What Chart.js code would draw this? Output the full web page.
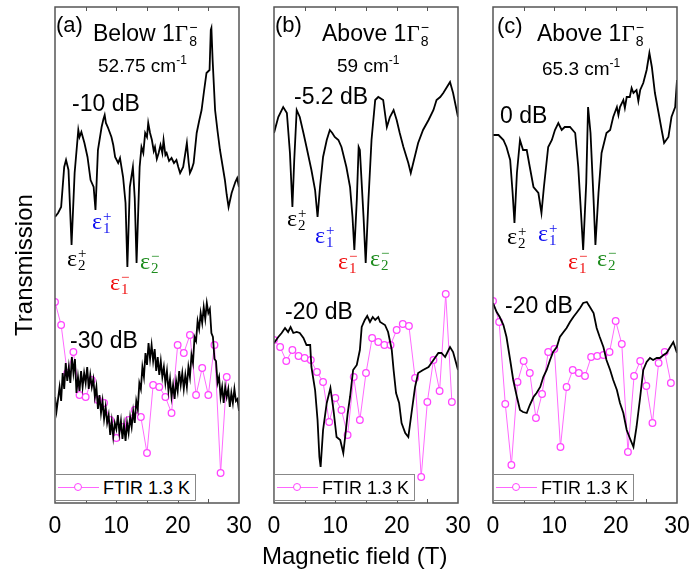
<!DOCTYPE html>
<html>
<head>
<meta charset="utf-8">
<script src="https://cdn.jsdelivr.net/npm/chart.js@4.4.1/dist/chart.umd.min.js"></script>
<style>
  body { margin: 0; background: #fff; font-family: "Liberation Sans", Arial, sans-serif; }
  #wrap { position: relative; width: 692px; height: 575px; overflow: hidden; }
  canvas.panel { position: absolute; top: 0; }
  .t { position: absolute; white-space: nowrap; color: #000; line-height: 1; font-size: 23px; }
  .small { font-size: 19px; }
  .t sup { font-size: 12px; vertical-align: 8px; }
  .serif { font-family: "Liberation Serif", "Times New Roman", serif; }
  .stk { display: inline-block; position: relative; width: 0.5em; height: 1em; vertical-align: top; }
  .stk .up, .stk .dn { position: absolute; left: 1px; font-size: 14px; line-height: 1; }
  .stk .up { top: -2px; }
  .stk .dn { top: 12px; }
  .eps { position: absolute; font-family: "Liberation Serif", "Times New Roman", serif; font-size: 24px; line-height: 1; white-space: nowrap; }
  .eps .stk { width: 9px; height: 24px; }
  .eps .stk .up, .eps .stk .dn { font-size: 15px; }
  .eps .stk .up { top: 0; }
  .eps .stk .dn { top: 12px; }
  .legend { position: absolute; top: 474px; width: 141px; height: 27px; border: 1px solid #888; background: #fff; box-sizing: border-box; }
  .legend .ln { position: absolute; left: 2px; top: 12px; width: 41px; border-top: 1px solid #ff66ff; }
  .legend .pt { position: absolute; left: 18px; top: 8px; width: 6px; height: 6px; border: 1.3px solid #ff44ff; border-radius: 50%; background: #fff; }
  .legend .lt { position: absolute; left: 47px; top: 4px; font-size: 18px; line-height: 1; }
</style>
</head>
<body>
<div id="wrap">
  <canvas id="cA" class="panel" width="224" height="545" style="left:35px"></canvas>
  <canvas id="cB" class="panel" width="224" height="545" style="left:254px"></canvas>
  <canvas id="cC" class="panel" width="224" height="545" style="left:473px"></canvas>

  <!-- panel (a) -->
  <div class="t" style="left:56px;top:14px;font-size:22px">(a)</div>
  <div class="t" style="left:93px;top:22px">Below 1<span class="serif">Γ</span><span class="stk"><span class="up">−</span><span class="dn">8</span></span></div>
  <div class="t small" style="left:98px;top:54px">52.75 cm<sup>-1</sup></div>
  <div class="t" style="left:72px;top:92px">-10 dB</div>
  <div class="t" style="left:70px;top:329px">-30 dB</div>
  <div class="eps" style="left:67px;top:246px;color:#000">ε<span class="stk"><span class="up">+</span><span class="dn">2</span></span></div>
  <div class="eps" style="left:92px;top:209px;color:#1010f0">ε<span class="stk"><span class="up">+</span><span class="dn">1</span></span></div>
  <div class="eps" style="left:110px;top:270px;color:#f01010">ε<span class="stk"><span class="up">−</span><span class="dn">1</span></span></div>
  <div class="eps" style="left:140px;top:249px;color:#1e8c1e">ε<span class="stk"><span class="up">−</span><span class="dn">2</span></span></div>

  <!-- panel (b) -->
  <div class="t" style="left:275px;top:14px;font-size:22px">(b)</div>
  <div class="t" style="left:322px;top:22px">Above 1<span class="serif">Γ</span><span class="stk"><span class="up">−</span><span class="dn">8</span></span></div>
  <div class="t small" style="left:337px;top:54px">59 cm<sup>-1</sup></div>
  <div class="t" style="left:294px;top:85px">-5.2 dB</div>
  <div class="t" style="left:285px;top:300px">-20 dB</div>
  <div class="eps" style="left:287px;top:206px;color:#000">ε<span class="stk"><span class="up">+</span><span class="dn">2</span></span></div>
  <div class="eps" style="left:315px;top:223px;color:#1010f0">ε<span class="stk"><span class="up">+</span><span class="dn">1</span></span></div>
  <div class="eps" style="left:338px;top:249px;color:#f01010">ε<span class="stk"><span class="up">−</span><span class="dn">1</span></span></div>
  <div class="eps" style="left:370px;top:246px;color:#1e8c1e">ε<span class="stk"><span class="up">−</span><span class="dn">2</span></span></div>

  <!-- panel (c) -->
  <div class="t" style="left:497px;top:15px;font-size:22px">(c)</div>
  <div class="t" style="left:537px;top:22px">Above 1<span class="serif">Γ</span><span class="stk"><span class="up">−</span><span class="dn">8</span></span></div>
  <div class="t small" style="left:542px;top:57px">65.3 cm<sup>-1</sup></div>
  <div class="t" style="left:500px;top:104px">0 dB</div>
  <div class="t" style="left:505px;top:294px">-20 dB</div>
  <div class="eps" style="left:507px;top:224px;color:#000">ε<span class="stk"><span class="up">+</span><span class="dn">2</span></span></div>
  <div class="eps" style="left:538px;top:221px;color:#1010f0">ε<span class="stk"><span class="up">+</span><span class="dn">1</span></span></div>
  <div class="eps" style="left:568px;top:249px;color:#f01010">ε<span class="stk"><span class="up">−</span><span class="dn">1</span></span></div>
  <div class="eps" style="left:597px;top:246px;color:#1e8c1e">ε<span class="stk"><span class="up">−</span><span class="dn">2</span></span></div>

  <!-- legends -->
  <div class="legend" style="left:55px"><div class="ln"></div><div class="pt"></div><div class="lt">FTIR 1.3 K</div></div>
  <div class="legend" style="left:274px"><div class="ln"></div><div class="pt"></div><div class="lt">FTIR 1.3 K</div></div>
  <div class="legend" style="left:493px"><div class="ln"></div><div class="pt"></div><div class="lt">FTIR 1.3 K</div></div>

  <!-- axis titles -->
  <div class="t" style="left:262px;top:544px;font-size:24px">Magnetic field (T)</div>
  <div class="t" style="left:24px;top:265px;font-size:24px;transform:translate(-50%,-50%) rotate(-90deg);transform-origin:center">Transmission</div>
</div>

<script>
// x grid for the FTIR points (tesla)
const ftirField = [0,1,2,3,4,5,6,7,8,9,10,11,12,13,14,15,16,17,18,19,20,21,22,23,24,25,26,27,28,29];
const xTicks = [0, 10, 20, 30];
const minorTicks = [5, 10, 15, 20, 25];

// (a) 52.75 cm-1 : upper trace -10 dB, lower trace -30 dB (arb. units)
const upperA = [[0,2.86],[0.5,2.90],[1.0,2.96],[1.5,3.36],[1.8,3.43],[2.2,3.33],[2.7,2.58],[3.2,3.30],[3.8,3.73],[4.0,3.66],[4.3,3.71],
  [4.8,3.60],[5.3,3.46],[5.8,3.23],[6.3,3.16],[6.6,2.93],[7.0,3.53],[7.6,3.76],[7.9,3.84],[8.1,3.88],[8.3,3.80],[8.6,3.76],
  [9.2,3.66],[9.5,3.58],[9.8,3.46],[10.3,3.40],[10.6,3.45],[11.1,3.26],[11.5,3.00],[11.8,2.36],[12.2,3.16],[12.7,3.36],[13.0,3.05],
  [13.3,2.40],[13.8,3.36],[14.1,3.56],[14.4,3.50],[14.7,3.70],[15.0,3.66],[15.2,3.80],[15.5,3.70],[15.8,3.63],[16.1,3.52],[16.3,3.56],
  [16.6,3.44],[16.9,3.50],[17.2,3.58],[17.5,3.50],[17.7,3.63],[18.0,3.48],[18.2,3.50],[18.6,3.42],[19.0,3.45],[19.4,3.40],[19.8,3.43],
  [20.1,3.36],[20.4,3.30],[20.9,3.36],[21.2,3.48],[21.5,3.60],[21.8,3.40],[22.0,3.30],[22.3,3.34],[22.6,3.40],[23.1,3.70],[23.5,3.82],
  [23.9,3.93],[24.3,4.12],[24.7,4.30],[25.2,4.33],[25.4,4.73],[25.5,4.75],[25.7,4.43],[26.1,3.93],[26.5,3.72],[26.9,3.53],[27.3,3.38],
  [27.7,3.23],[28.0,3.08],[28.3,2.96],[28.8,3.10],[29.4,3.21],[29.7,3.25],[30,3.16]];
const lowerAStep = 0.25;
const lowerA = [1.06,0.92,1.04,1.16,1.02,1.30,1.14,1.40,1.22,1.36,1.20,1.46,1.30,1.44,1.10,1.26,1.12,1.32,1.16,1.30,
  1.20,1.36,1.14,1.28,1.16,1.24,1.06,1.16,0.94,1.08,0.90,1.02,0.84,0.96,0.80,0.88,0.68,0.82,0.66,0.80,
  0.74,0.88,0.70,0.82,0.64,0.78,0.62,0.80,0.70,0.86,0.76,0.92,0.80,1.02,0.94,1.20,1.14,1.36,1.26,1.50,
  1.38,1.60,1.44,1.58,1.42,1.54,1.32,1.46,1.28,1.42,1.26,1.36,1.20,1.32,1.12,1.24,1.06,1.18,1.04,1.22,
  1.12,1.32,1.18,1.30,1.14,1.28,1.16,1.36,1.26,1.48,1.40,1.66,1.62,1.82,1.74,1.90,1.80,1.96,1.84,2.00,
  1.90,1.94,1.70,1.66,1.44,1.42,1.20,1.26,1.06,1.16,1.00,1.16,1.06,1.14,0.96,1.10,1.00,1.14,1.02,1.04,0.92];
const ftirA = [2.01,1.78,1.30,1.51,1.08,1.06,1.23,1.03,1.00,0.83,0.65,0.76,0.83,0.93,0.86,0.50,1.18,1.16,1.06,0.90,
  1.58,1.50,1.68,1.08,1.35,1.08,1.58,0.30,1.26];

// (b) 59 cm-1 : upper trace -5.2 dB, lower trace -20 dB
const upperB = [[0,3.70],[0.7,3.86],[1.5,3.96],[2.1,3.90],[2.6,3.50],[3.0,2.96],[3.3,3.43],[3.7,3.93],[4.2,3.86],[4.8,3.70],
  [5.3,3.56],[6.1,3.33],[6.7,3.13],[7.1,2.86],[7.5,3.16],[8.0,3.46],[8.6,3.63],[9.1,3.73],[9.5,3.70],[9.9,3.66],[10.5,3.63],
  [11.0,3.56],[11.8,3.36],[12.4,3.16],[12.8,2.86],[13.1,2.53],[13.5,3.03],[13.8,3.56],[14.0,3.53],[14.6,2.86],[14.95,2.40],
  [15.4,3.03],[15.9,3.63],[16.5,4.03],[17.0,4.06],[17.8,4.03],[18.4,3.76],[18.9,3.86],[19.5,3.93],[20.0,3.83],[20.5,3.70],
  [21.1,3.56],[21.9,3.40],[22.3,3.30],[22.7,3.40],[23.5,3.60],[24.3,3.73],[25.2,3.83],[26.0,3.93],[26.5,4.03],[27.1,4.06],
  [27.6,4.10],[28.2,4.16],[28.7,4.21],[29.2,4.10],[30,3.86]];
const lowerB = [[0,1.60],[0.7,1.66],[1.25,1.70],[1.8,1.75],[2.3,1.71],[2.7,1.76],[3.15,1.70],[3.7,1.71],[4.2,1.70],[4.8,1.65],
  [5.3,1.58],[5.9,1.58],[6.1,1.36],[6.7,1.13],[7.1,0.83],[7.4,0.46],[7.6,0.36],[8.0,0.73],[8.6,1.00],[9.2,1.15],[9.7,0.93],
  [10.2,0.66],[10.8,0.63],[11.3,0.50],[11.6,0.66],[12.0,0.89],[12.4,1.06],[12.9,1.33],[13.5,1.38],[14.0,1.53],[14.3,1.76],
  [14.8,1.83],[15.2,1.87],[15.65,1.81],[16.1,1.86],[16.5,1.83],[17.0,1.86],[17.3,1.81],[18.1,1.78],[18.6,1.71],[19.2,1.53],
  [19.5,1.33],[19.9,1.10],[20.4,1.00],[20.8,0.80],[21.4,0.70],[21.9,0.66],[22.4,0.89],[23.0,1.16],[23.5,1.30],[24.3,1.33],
  [25.2,1.36],[26.0,1.43],[26.8,1.50],[27.3,1.50],[27.9,1.46],[28.7,1.56],[29.2,1.51],[30,1.33]];
const ftirB = [1.63,1.56,1.42,1.53,1.47,1.45,1.43,1.31,1.21,0.81,1.05,0.93,0.68,1.26,0.83,1.30,1.65,1.61,1.58,1.58,
  1.73,1.79,1.77,1.25,0.26,1.01,1.43,1.12,2.09,1.01];

// (c) 65.3 cm-1 : upper trace 0 dB, lower trace -20 dB
const upperC = [[0,3.68],[0.9,3.68],[1.7,3.63],[2.2,3.56],[2.8,3.43],[3.2,3.10],[3.5,2.80],[3.9,3.30],[4.4,3.63],[4.9,3.53],
  [5.5,3.53],[6.0,3.36],[6.6,3.16],[7.4,3.10],[7.9,2.90],[8.3,3.16],[9.0,3.56],[9.6,3.63],[10.1,3.73],[10.65,3.80],[11.2,3.73],
  [11.7,3.76],[12.55,3.76],[13.4,3.70],[13.9,3.36],[14.35,2.90],[14.7,2.53],[15.2,3.20],[15.5,3.96],[15.9,3.70],[16.4,3.03],
  [16.7,2.58],[17.2,3.10],[17.7,3.50],[18.5,3.70],[19.1,3.73],[19.6,3.86],[20.2,3.96],[20.45,3.88],[20.7,3.96],[21.25,4.03],
  [21.5,3.95],[21.8,4.06],[22.3,4.06],[22.6,4.15],[22.9,4.10],[23.4,4.13],[23.7,4.02],[24.0,4.13],[24.5,4.20],[25.05,4.33],
  [25.5,4.50],[25.9,4.36],[26.4,4.10],[27.0,3.90],[27.5,3.73],[27.9,3.60],[28.6,3.66],[29.1,3.86],[29.7,3.96],[30,4.23]];
const lowerC = [[0,2.00],[0.6,1.91],[1.1,1.86],[1.7,1.78],[2.2,1.66],[2.8,1.43],[3.3,1.23],[3.9,1.06],[4.4,0.93],[4.9,0.91],
  [5.5,0.90],[6.0,0.98],[6.6,1.06],[7.1,1.10],[7.7,1.16],[8.2,1.26],[8.75,1.33],[9.3,1.43],[9.8,1.51],[10.4,1.56],[10.9,1.66],
  [11.5,1.71],[12.0,1.75],[12.55,1.81],[13.1,1.86],[13.6,1.90],[14.2,1.95],[14.7,2.00],[15.3,2.01],[15.8,1.96],[16.4,1.90],
  [16.9,1.75],[17.4,1.66],[18.0,1.56],[18.5,1.43],[19.1,1.33],[19.6,1.23],[20.2,1.13],[20.7,1.00],[21.25,0.90],[21.8,0.73],
  [22.3,0.65],[22.9,0.56],[23.4,0.76],[24.0,1.06],[24.5,1.33],[25.05,1.41],[25.6,1.45],[26.1,1.43],[26.7,1.45],[27.2,1.45],
  [27.8,1.48],[28.3,1.50],[28.9,1.56],[29.4,1.61],[30,1.50]];
const ftirC = [2.02,1.81,0.99,0.38,1.21,1.42,1.30,0.85,1.09,1.51,1.54,0.56,1.16,1.33,1.30,1.27,1.46,1.47,1.48,1.51,
  1.82,1.59,0.51,1.27,1.42,1.17,0.80,1.40,1.51,1.20];

const toXY = pairs => pairs.map(p => ({ x: p[0], y: p[1] }));

// frame around the plot + small inward ticks top and bottom
const frame = {
  id: 'frame',
  afterDatasetsDraw(chart) {
    const { ctx, chartArea: a, scales: { x } } = chart;
    ctx.save();
    ctx.strokeStyle = '#555';
    ctx.lineWidth = 1.5;
    ctx.strokeRect(a.left, a.top, a.right - a.left, a.bottom - a.top);
    ctx.lineWidth = 1;
    minorTicks.forEach(v => {
      const px = Math.round(x.getPixelForValue(v)) + 0.5;
      ctx.beginPath();
      ctx.moveTo(px, a.bottom); ctx.lineTo(px, a.bottom - 4);
      ctx.moveTo(px, a.top); ctx.lineTo(px, a.top + 4);
      ctx.stroke();
    });
    ctx.restore();
  }
};

function makePanel(id, upper, lower, ftir) {
  const black = { borderColor: '#000', borderWidth: 1.8, pointRadius: 0, tension: 0, fill: false };
  new Chart(document.getElementById(id), {
    type: 'line',
    data: {
      datasets: [
        Object.assign({ data: toXY(upper) }, black),
        Object.assign({ data: lower }, black),
        {
          data: ftir.map((v, i) => ({ x: ftirField[i], y: v })),
          borderColor: '#ff6aff',
          borderWidth: 1,
          pointRadius: 3.3,
          pointBorderWidth: 1.3,
          pointBorderColor: '#ff44ff',
          pointBackgroundColor: '#fff',
          tension: 0
        }
      ]
    },
    options: {
      responsive: false,
      animation: false,
      devicePixelRatio: 1,
      layout: { padding: { left: 20, right: 20, top: 7, bottom: 0 } },
      plugins: { legend: { display: false }, tooltip: { enabled: false } },
      scales: {
        x: {
          type: 'linear', min: 0, max: 30,
          grid: { display: false, drawTicks: false },
          border: { display: false },
          afterBuildTicks: s => { s.ticks = xTicks.map(v => ({ value: v })); },
          // fixed axis box so the plot frame lands where the original has it
          afterFit: s => { s.height = 42; s.paddingLeft = 0; s.paddingRight = 0; },
          ticks: { color: '#000', padding: 10, maxRotation: 0, font: { family: 'Liberation Sans', size: 23 } }
        },
        y: { display: false, min: 0, max: 4.96 }
      }
    },
    plugins: [frame]
  });
}

makePanel('cA', upperA, lowerA.map((v, i) => ({ x: i * lowerAStep, y: v })), ftirA);
makePanel('cB', upperB, toXY(lowerB), ftirB);
makePanel('cC', upperC, toXY(lowerC), ftirC);
</script>
</body>
</html>
